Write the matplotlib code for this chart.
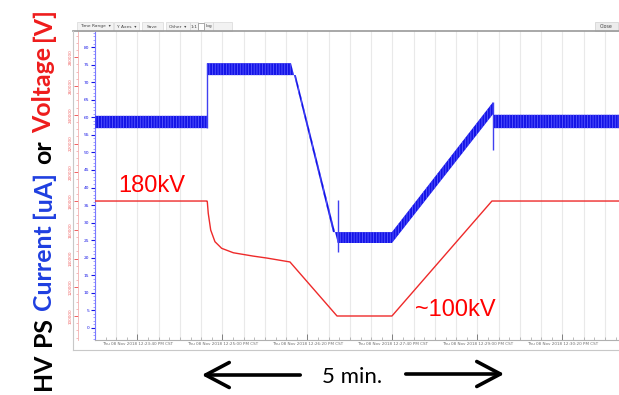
import numpy as np
import matplotlib
matplotlib.use("Agg")
import matplotlib.pyplot as plt
from matplotlib.patches import Rectangle, FancyArrowPatch
from matplotlib.lines import Line2D
from matplotlib.ticker import MultipleLocator, FixedLocator

# ---------------- data ----------------
# HV PS current envelope (time in s, current in uA)
cur_up_t = [0, 105.4, 105.4, 184.5, 224.0, 279.5, 374.6, 374.6, 493.2]
cur_up   = [60.4, 60.4, 75.4, 75.4, 27.3, 27.3, 64.3, 60.7, 60.7]
cur_lo_t = [0, 105.4, 105.4, 189.0, 228.5, 279.5, 374.6, 374.6, 493.2]
cur_lo   = [56.9, 56.9, 72.0, 72.0, 24.2, 24.2, 60.9, 56.9, 56.9]
# transient spikes (time, low, high)
spike_t  = [105.4, 228.7, 374.6]
spike_lo = [56.9, 21.6, 50.7]
spike_hi = [75.4, 36.4, 64.3]

# HV PS voltage (kV)
volt_t  = [0, 105.4, 105.7, 106.6, 108.9, 112.9, 119.2, 130.2, 148.7, 161.9,
           183.5, 227.8, 279.5, 373.6, 493.2]
volt_kv = [180, 180, 179.5, 171.4, 159.8, 151.7, 147.1, 144.0, 141.7, 140.3,
           137.6, 100, 100, 180, 180]

x_tick_t = [40, 120, 200, 280, 360, 440]
x_tick_labels = ["Thu 08 Nov 2018 12:23:40 PM CST", "Thu 08 Nov 2018 12:25:00 PM CST",
                 "Thu 08 Nov 2018 12:26:20 PM CST", "Thu 08 Nov 2018 12:27:40 PM CST",
                 "Thu 08 Nov 2018 12:29:00 PM CST", "Thu 08 Nov 2018 12:30:20 PM CST"]
cur_ticks = list(range(0, 85, 5))
volt_ticks = list(range(100, 300, 20))

# ---------------- figure ----------------
W, H = 619, 395
fig = plt.figure(figsize=(W / 100, H / 100), dpi=100)
plt.rcParams["hatch.linewidth"] = 0.6

def fx(px):
    return px / W

def fy(py):
    return 1 - py / H

BLUE = "#1414e6"
RED = "#ee2a2a"

ax = fig.add_axes([fx(95), fy(340), fx(619) - fx(95), fy(31) - fy(340)])
ax.set_xlim(0, 493.2)
ax.set_ylim(-3.42, 84.56)

# vertical grid every 20 s
for g in np.arange(0, 494, 20):
    ax.axvline(g, color="#e9e9e9", lw=0.8, zorder=0)

# current band
poly_t = list(cur_up_t) + list(cur_lo_t[::-1])
poly_v = list(cur_up) + list(cur_lo[::-1])
ax.fill(poly_t, poly_v, facecolor=BLUE, edgecolor="#5a5aff", hatch="||||||",
        linewidth=0, zorder=3)
ax.vlines(spike_t, spike_lo, spike_hi, color="#4040f0", lw=1.0, zorder=3)

# voltage line on twin axis
ax2 = ax.twinx()
ax2.set_ylim(83.3, 298.3)
ax2.plot(volt_t, volt_kv, color=RED, lw=1.0, zorder=4)

# ---- axes styling ----
for s in ["top", "right"]:
    ax.spines[s].set_visible(False)
    ax2.spines[s].set_visible(False)
ax2.spines["bottom"].set_visible(False)
ax.spines["left"].set_color("#7a7aff")
ax.spines["left"].set_linewidth(0.8)
ax.spines["bottom"].set_color("#b0b0b0")
ax.spines["bottom"].set_linewidth(0.8)

ax.yaxis.set_major_locator(FixedLocator(cur_ticks))
ax.yaxis.set_minor_locator(MultipleLocator(1))
ax.tick_params(axis="y", which="major", colors=BLUE, labelsize=3.2, length=3, width=0.8, pad=1)
ax.tick_params(axis="y", which="minor", colors="#7a7aff", length=1.5, width=0.5)
ax.set_yticklabels([str(v) for v in cur_ticks])

ax2.yaxis.tick_left()
ax2.yaxis.set_label_position("left")
ax2.spines["left"].set_visible(True)
ax2.spines["left"].set_position(("outward", 12))
ax2.spines["left"].set_color("#f3b0b0")
ax2.spines["left"].set_linewidth(0.6)
ax2.yaxis.set_major_locator(FixedLocator(volt_ticks))
ax2.yaxis.set_minor_locator(MultipleLocator(5))
ax2.tick_params(axis="y", which="major", colors="#f06060", labelsize=3.0, length=3, width=0.7, pad=1)
ax2.tick_params(axis="y", which="minor", colors="#f3a0a0", length=1.5, width=0.5)
ax2.set_yticklabels([f"{v*1000:d}" for v in volt_ticks], rotation=90, va="center")

ax.xaxis.set_major_locator(FixedLocator(x_tick_t))
ax.xaxis.set_minor_locator(MultipleLocator(10))
ax.set_xticklabels(x_tick_labels)
ax.tick_params(axis="x", which="major", direction="in", length=4, width=0.7, colors="#808080",
               labelsize=3.0, pad=1.5, labelcolor="#707070")
ax.tick_params(axis="x", which="minor", direction="in", length=2, width=0.5, colors="#a0a0a0")

# ---------------- frame & toolbar ----------------
fig.add_artist(Line2D([fx(73), fx(619)], [fy(31), fy(31)], color="#9a9a9a", lw=1.2))
fig.add_artist(Line2D([fx(73), fx(73)], [fy(31), fy(350)], color="#c8c8c8", lw=0.8))
fig.add_artist(Line2D([fx(73), fx(619)], [fy(350), fy(350)], color="#c8c8c8", lw=0.8))

buttons = [("Time Range  \u25be", 77, 113), ("Y Axes  \u25be", 114, 139), ("Save", 142, 163),
           ("Other  \u25be", 166, 190), ("1:1", 190, 198), ("log", 204, 213), ("", 213, 232)]
for label, x0, x1 in buttons:
    fig.add_artist(Rectangle((fx(x0), fy(31)), fx(x1) - fx(x0), fy(22) - fy(31),
                             facecolor="#f2f2f2", edgecolor="#d8d8d8", lw=0.5))
    fig.text(fx((x0 + x1) / 2), fy(26.5), label, fontsize=3.2, color="#444444",
             ha="center", va="center")
fig.add_artist(Rectangle((fx(198), fy(30)), fx(204) - fx(198), fy(23) - fy(30),
                         facecolor="white", edgecolor="#888888", lw=0.5))
fig.add_artist(Rectangle((fx(595), fy(31)), fx(618) - fx(595), fy(22) - fy(31),
                         facecolor="#ececec", edgecolor="#cfcfcf", lw=0.5))
fig.text(fx(606.5), fy(26.5), "Close", fontsize=3.4, color="#444444", ha="center", va="center")

# ---------------- annotations ----------------
fig.text(fx(118), fy(192), "180kV", fontsize=17, color="red", family="Liberation Sans",
         ha="left", va="baseline")
fig.text(fx(415), fy(316), "~100kV", fontsize=17, color="red", family="Liberation Sans",
         ha="left", va="baseline")

fig.text(fx(352), fy(383), "5 min.", fontsize=16, color="black", family="Lato",
         ha="center", va="baseline")
fig.add_artist(FancyArrowPatch((fx(303), fy(375)), (fx(199), fy(375)), transform=fig.transFigure,
                               arrowstyle="->,head_length=0.85,head_width=0.45",
                               mutation_scale=20, lw=2.6, color="black"))
fig.add_artist(FancyArrowPatch((fx(403), fy(374)), (fx(507), fy(374)), transform=fig.transFigure,
                               arrowstyle="->,head_length=0.85,head_width=0.45",
                               mutation_scale=20, lw=2.6, color="black"))

# vertical multi-coloured axis title, laid out piece by piece
pieces = [("HV", "black"), ("PS", "black"), ("Current", "#1f3fe0"), ("[uA]", "#1f3fe0"),
          ("or", "black"), ("Voltage", "#ee1c1c"), ("[V]", "#ee1c1c")]
title_texts = []
for txt, col in pieces:
    t = fig.text(fx(51), fy(390), txt, fontsize=16.5, fontweight="bold", color=col,
                 family="Lato", rotation=90, rotation_mode="anchor", ha="left", va="baseline")
    title_texts.append(t)
fig.canvas.draw()
renderer = fig.canvas.get_renderer()
lengths = [t.get_window_extent(renderer).height for t in title_texts]
gap = 6.5
total = sum(lengths) + gap * (len(lengths) - 1)
scale = (390 - 8) / total
cursor = 390.0
for t, L in zip(title_texts, lengths):
    t.set_fontsize(16.5 * scale)
    t.set_position((fx(51), fy(cursor)))
    cursor -= (L + gap) * scale

fig.savefig("out.png", dpi=100)
